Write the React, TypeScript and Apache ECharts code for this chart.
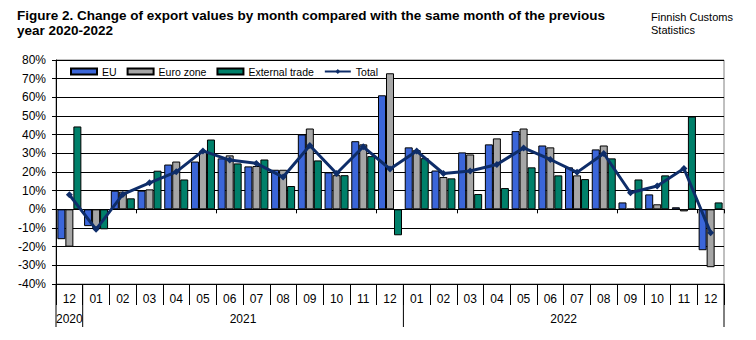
import React, { useEffect, useRef } from "react";
import * as echarts from "echarts";

const categories = [
  "2020-12",
  "2021-01", "2021-02", "2021-03", "2021-04", "2021-05", "2021-06",
  "2021-07", "2021-08", "2021-09", "2021-10", "2021-11", "2021-12",
  "2022-01", "2022-02", "2022-03", "2022-04", "2022-05", "2022-06",
  "2022-07", "2022-08", "2022-09", "2022-10", "2022-11", "2022-12",
];

const euValues = [
  -16, -9, 10, 10, 24, 25.6, 27.3, 23, 21.2, 40.1, 19.8, 36.5, 61.1,
  33.2, 20.8, 30.5, 34.8, 41.9, 34.2, 22.5, 32.1, 3.7, 8, 1.1, -21.9,
];
const euroZoneValues = [
  -20, -10, 9.5, 10.7, 25.6, 31.2, 28.9, 23.2, 21.2, 43.3, 18.3, 34.8, 72.9,
  31.7, 17.3, 29.4, 38, 43.3, 33.2, 18.2, 34.2, 0.3, 2.7, -1.1, -31,
];
const externalValues = [
  44.4, -10.7, 5.9, 20.7, 16, 37.4, 24.6, 26.7, 12.5, 26.2, 18.3, 28.5, -13.9,
  27.4, 16.6, 8.2, 11.4, 22.5, 18.2, 16.2, 27.3, 16, 18.2, 49.7, 3.7,
];
const totalValues = [
  7.8, -10.7, 8, 14.2, 20.1, 31.3, 26.4, 24.6, 17.3, 34.2, 19.2, 33.5, 21.6,
  31.2, 19.2, 20.5, 24, 32.9, 26.7, 19.8, 29.9, 8.9, 12.5, 21.9, -12.5,
];

const yTicks = { min: -40, max: 80, interval: 10 };

const years = [
  { label: "2020", from: 0, to: 0 },
  { label: "2021", from: 1, to: 12 },
  { label: "2022", from: 13, to: 24 },
];

const FONT = "'Liberation Sans', Arial, sans-serif";
const COLORS = {
  eu: "#3b66d9",
  euro: "#a6a6a6",
  ext: "#00806a",
  total: "#0e2d69",
};

export default function App() {
  const ref = useRef<HTMLDivElement>(null);

  useEffect(() => {
    if (!ref.current) return;
    const chart = echarts.init(ref.current, null, { renderer: "svg" });
    const barBase = {
      type: "bar" as const,
      barWidth: 8,
      barGap: "0%",
      xAxisIndex: 0,
      yAxisIndex: 0,
    };
    chart.setOption({
      animation: false,
      backgroundColor: "#ffffff",
      textStyle: { fontFamily: FONT },
      title: [
        {
          text:
            "Figure 2. Change of export values by month compared with the same month of the previous\nyear 2020-2022",
          left: 17,
          top: 8,
          padding: 0,
          textStyle: {
            fontFamily: FONT,
            fontSize: 13.5,
            fontWeight: "bold",
            color: "#000",
            lineHeight: 15,
          },
        },
        {
          text: "Finnish Customs\nStatistics",
          left: 651,
          top: 10,
          padding: 0,
          textStyle: {
            fontFamily: FONT,
            fontSize: 11,
            fontWeight: "normal",
            color: "#000",
            lineHeight: 13,
          },
        },
      ],
      legend: {
        left: 70,
        top: 66,
        padding: 0,
        itemWidth: 26,
        itemHeight: 6,
        itemGap: 10,
        textStyle: { fontFamily: FONT, fontSize: 10.5, color: "#000" },
        data: [
          { name: "EU", icon: "rect" },
          { name: "Euro zone", icon: "rect" },
          { name: "External trade", icon: "rect" },
          { name: "Total" },
        ],
      },
      grid: {
        left: 56,
        right: 32,
        top: 60,
        bottom: 56,
        show: true,
        borderColor: "#808080",
        borderWidth: 1,
        backgroundColor: "transparent",
      },
      xAxis: [
        {
          type: "category",
          data: categories,
          position: "bottom",
          axisLine: { show: true, onZero: true, lineStyle: { color: "#000", width: 1 } },
          axisTick: { show: true, length: 4, lineStyle: { color: "#000" } },
          axisLabel: { show: false },
          splitLine: { show: false },
        },
        {
          type: "category",
          data: categories,
          position: "bottom",
          axisLine: { show: false, onZero: false },
          axisTick: { show: true, length: 21, lineStyle: { color: "#000" } },
          axisLabel: {
            show: true,
            margin: 9,
            fontSize: 12,
            fontFamily: FONT,
            color: "#000",
            interval: 0,
            formatter: (v: string) => v.slice(5),
          },
          splitLine: { show: false },
        },
      ],
      yAxis: {
        type: "value",
        min: yTicks.min,
        max: yTicks.max,
        interval: yTicks.interval,
        axisLine: { show: true, lineStyle: { color: "#000", width: 1 } },
        axisTick: { show: true, length: 4, lineStyle: { color: "#000" } },
        axisLabel: {
          formatter: "{value}%",
          fontSize: 12,
          fontFamily: FONT,
          color: "#000",
          margin: 10,
        },
        splitLine: { show: true, lineStyle: { color: "#000", width: 1 } },
      },
      series: [
        {
          ...barBase,
          name: "EU",
          data: euValues,
          itemStyle: { color: COLORS.eu, borderColor: "#000", borderWidth: 1 },
        },
        {
          ...barBase,
          name: "Euro zone",
          data: euroZoneValues,
          itemStyle: { color: COLORS.euro, borderColor: "#000", borderWidth: 1 },
        },
        {
          ...barBase,
          name: "External trade",
          data: externalValues,
          itemStyle: { color: COLORS.ext, borderColor: "#000", borderWidth: 1 },
        },
        {
          type: "line",
          name: "Total",
          data: totalValues,
          z: 5,
          symbol: "diamond",
          symbolSize: 7,
          lineStyle: { color: COLORS.total, width: 3 },
          itemStyle: { color: COLORS.total },
        },
      ],
    });

    // Year row under the month labels, positioned from the category axis scale
    const c0 = chart.convertToPixel({ xAxisIndex: 0 }, categories[0]) as number;
    const c1 = chart.convertToPixel({ xAxisIndex: 0 }, categories[1]) as number;
    const band = c1 - c0;
    const yBottom = chart.convertToPixel({ yAxisIndex: 0 }, yTicks.min) as number;
    const graphics: any[] = [];
    const boundaries = new Set<number>();
    years.forEach((yr) => {
      const left =
        (chart.convertToPixel({ xAxisIndex: 0 }, categories[yr.from]) as number) - band / 2;
      const right =
        (chart.convertToPixel({ xAxisIndex: 0 }, categories[yr.to]) as number) + band / 2;
      boundaries.add(Math.round(left * 10) / 10);
      boundaries.add(Math.round(right * 10) / 10);
      graphics.push({
        type: "text",
        x: (left + right) / 2,
        y: yBottom + 35,
        style: {
          text: yr.label,
          fill: "#000",
          font: `12px ${FONT}`,
          textAlign: "center",
          textVerticalAlign: "middle",
        },
      });
    });
    boundaries.forEach((bx) => {
      graphics.push({
        type: "line",
        shape: { x1: bx, y1: yBottom, x2: bx, y2: yBottom + 43 },
        style: { stroke: "#000", lineWidth: 1 },
      });
    });
    chart.setOption({ graphic: graphics });

    return () => chart.dispose();
  }, []);

  return (
    <div
      ref={ref}
      style={{ position: "fixed", left: 0, top: 0, width: 756, height: 340 }}
    />
  );
}
